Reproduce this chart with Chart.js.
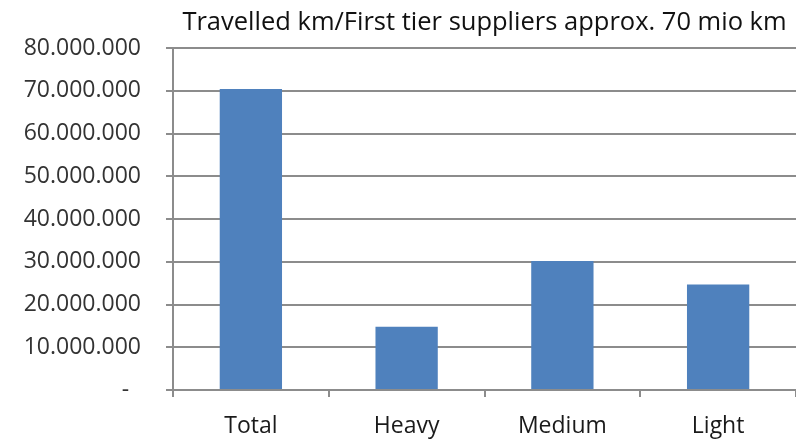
<!DOCTYPE html>
<html lang="en">

<head>
    <meta charset="UTF-8">
    <title>Travelled km</title>
    <style>
        html, body { margin: 0; padding: 0; background: #fff; }
        #wrap { width: 796px; height: 441px; }
    </style>
</head>

<body>
    <div id="wrap">
        <canvas id="myChart" width="796" height="441"></canvas>
    </div>

    <script src="https://cdn.jsdelivr.net/npm/chart.js/dist/chart.umd.min.js"></script>
    <script>
        const categories = ['Total', 'Heavy', 'Medium', 'Light'];
        const kmValues = [70400000, 14800000, 30200000, 24700000];
        const yTicks = [0, 10000000, 20000000, 30000000, 40000000, 50000000, 60000000, 70000000, 80000000];
        const chartTitle = 'Travelled km/First tier suppliers approx. 70 mio km';

        const gridColor = '#8c8c8c';

        function dotted(v) {
            if (v === 0) return '-  ';
            return String(v).replace(/\B(?=(\d{3})+(?!\d))/g, '.');
        }

        const config = {
            type: 'bar',
            data: {
                labels: categories,
                datasets: [{
                    label: 'km',
                    data: kmValues,
                    backgroundColor: '#4f81bd',
                    borderWidth: 0,
                    categoryPercentage: 1,
                    barPercentage: 0.4
                }]
            },
            options: {
                responsive: false,
                animation: false,
                layout: { padding: { left: 0, right: -3, top: 0, bottom: 0 } },
                plugins: {
                    legend: { display: false },
                    tooltip: { enabled: false },
                    title: {
                        display: true,
                        text: chartTitle,
                        fullSize: false,
                        color: '#111',
                        font: { family: 'Open Sans', size: 25.5, weight: 'normal', lineHeight: 1.2 },
                        padding: { top: 7, bottom: 10.4 }
                    }
                },
                scales: {
                    x: {
                        grid: {
                            display: true,
                            drawOnChartArea: false,
                            drawTicks: true,
                            tickLength: 7,
                            color: gridColor,
                            lineWidth: 2
                        },
                        border: { display: true, color: gridColor, width: 2 },
                        ticks: {
                            color: '#1a1a1a',
                            padding: 16,
                            font: { family: 'Open Sans', size: 23 }
                        },
                        afterFit: (scale) => { scale.height = 51; }
                    },
                    y: {
                        min: 0,
                        max: 80000000,
                        afterBuildTicks: (scale) => {
                            scale.ticks = yTicks.map(v => ({ value: v }));
                        },
                        grid: {
                            color: gridColor,
                            lineWidth: 2,
                            drawTicks: true,
                            tickLength: 7
                        },
                        border: { display: true, color: gridColor, width: 2 },
                        ticks: {
                            color: '#333',
                            padding: 25,
                            font: { family: 'Open Sans', size: 23 },
                            callback: (v) => dotted(v)
                        },
                        afterFit: (scale) => { scale.width = 173; }
                    }
                }
            }
        };

        const myChart = new Chart(document.getElementById('myChart'), config);
    </script>
</body>

</html>
